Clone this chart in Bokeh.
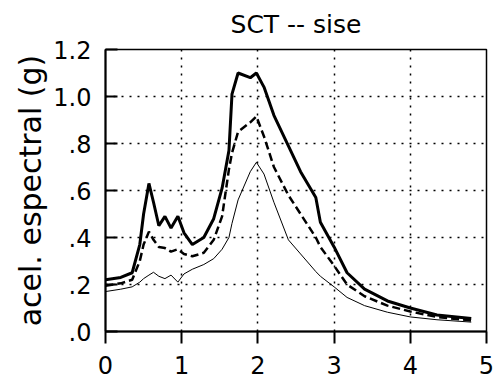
from bokeh.plotting import figure
from bokeh.models import Range1d, FixedTicker
from bokeh.embed import file_html
from bokeh.resources import INLINE

# Periodo (s)
periodo = [0.0, 0.2, 0.35, 0.45, 0.5, 0.57, 0.63, 0.7, 0.78, 0.86, 0.95, 1.03, 1.14,
           1.29, 1.42, 1.53, 1.62, 1.66, 1.74, 1.9, 1.98, 2.08, 2.21, 2.4, 2.56,
           2.76, 2.82, 3.0, 3.17, 3.4, 3.7, 4.0, 4.35, 4.8]

# curva gruesa (continua)
curva_gruesa = [0.22, 0.23, 0.25, 0.37, 0.50, 0.63, 0.55, 0.45, 0.49, 0.44, 0.49, 0.42, 0.37,
                0.40, 0.48, 0.61, 0.77, 1.01, 1.10, 1.08, 1.10, 1.04, 0.92, 0.79, 0.68,
                0.57, 0.465, 0.36, 0.25, 0.18, 0.13, 0.10, 0.07, 0.055]

# curva discontinua
curva_discontinua = [0.195, 0.205, 0.22, 0.30, 0.37, 0.425, 0.39, 0.36, 0.355, 0.34, 0.35, 0.33, 0.32,
                     0.335, 0.39, 0.49, 0.69, 0.76, 0.85, 0.89, 0.915, 0.83, 0.70, 0.58, 0.50,
                     0.40, 0.36, 0.28, 0.20, 0.15, 0.11, 0.085, 0.062, 0.047]

# curva delgada
curva_delgada = [0.17, 0.18, 0.19, 0.21, 0.225, 0.24, 0.252, 0.235, 0.225, 0.24, 0.21, 0.245, 0.265,
                 0.285, 0.31, 0.35, 0.40, 0.46, 0.56, 0.68, 0.72, 0.67, 0.55, 0.39, 0.33,
                 0.255, 0.235, 0.19, 0.145, 0.11, 0.082, 0.062, 0.05, 0.04]

x_ticks = [0, 1, 2, 3, 4, 5]
y_ticks = [0.0, 0.2, 0.4, 0.6, 0.8, 1.0, 1.2]
y_tick_labels = [".0", ".2", ".4", ".6", ".8", "1.0", "1.2"]

FONT = "DejaVu Sans"

p = figure(width=496, height=378, x_range=Range1d(0, 5), y_range=Range1d(0, 1.2),
           output_backend="svg", toolbar_location=None,
           min_border_left=105, min_border_right=10, min_border_top=48, min_border_bottom=47,
           title="SCT -- sise")

p.title.text_font = FONT
p.title.text_font_size = "25px"
p.title.text_font_style = "normal"
p.title.align = "center"
p.title.vertical_align = "top"
p.title.text_color = "black"
p.title.standoff = 18

p.outline_line_color = "black"
p.outline_line_width = 1.5
p.background_fill_color = "white"
p.border_fill_color = "white"

p.xaxis.ticker = FixedTicker(ticks=x_ticks)
p.yaxis.ticker = FixedTicker(ticks=y_ticks)
p.yaxis.major_label_overrides = {t: l for t, l in zip(y_ticks, y_tick_labels)}
p.yaxis.axis_label = "acel. espectral (g)"

for ax in (p.xaxis[0], p.yaxis[0]):
    ax.axis_line_color = "black"
    ax.axis_line_width = 2
    ax.major_tick_line_color = "black"
    ax.major_tick_line_width = 2
    ax.minor_tick_line_color = None
    ax.major_label_text_font = FONT
    ax.major_label_text_font_size = "24px"
    ax.major_label_text_color = "black"

p.xaxis.major_tick_in = 0
p.xaxis.major_tick_out = 12
p.xaxis.major_label_standoff = 12
p.yaxis.major_tick_in = 12
p.yaxis.major_tick_out = 0
p.yaxis.major_label_standoff = 14
p.yaxis.axis_label_text_font = FONT
p.yaxis.axis_label_text_font_size = "30px"
p.yaxis.axis_label_text_font_style = "normal"
p.yaxis.axis_label_text_color = "black"
p.yaxis.axis_label_standoff = 2

p.xgrid.ticker = FixedTicker(ticks=[1, 2, 3, 4])
p.ygrid.ticker = FixedTicker(ticks=[0.2, 0.4, 0.6, 0.8, 1.0])
for g in (p.xgrid[0], p.ygrid[0]):
    g.grid_line_color = "black"
    g.grid_line_width = 1.5
    g.grid_line_dash = "2 6"

p.line(periodo, curva_delgada, line_color="black", line_width=1)
p.line(periodo, curva_discontinua, line_color="black", line_width=2.5, line_dash="8 4")
p.line(periodo, curva_gruesa, line_color="black", line_width=3)

open("out.html", "w").write(file_html(p, INLINE))
